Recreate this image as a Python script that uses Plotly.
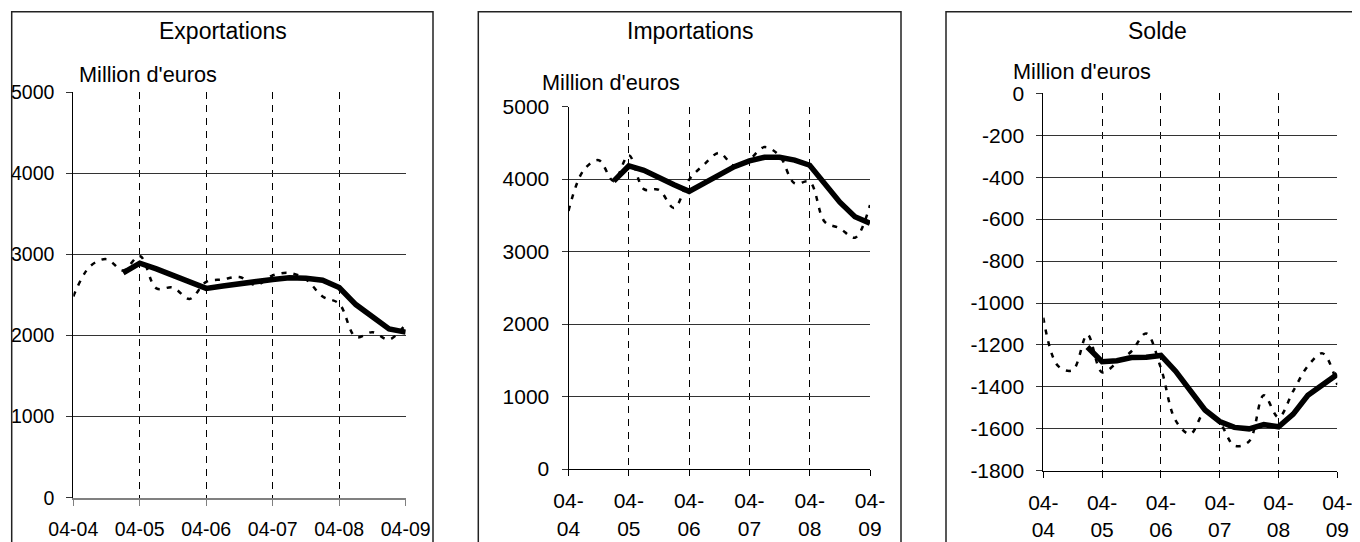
import plotly.graph_objects as go

# page is 1360x542; the html body adds an 8px margin, so the figure is
# placed at (8, 8) and sized to fill the rest of the window
PAGE_OFF = 8
W, H = 1360 - PAGE_OFF, 542 - PAGE_OFF

quarters = list(range(21))
tick_pos = [0, 4, 8, 12, 16, 20]
tick_text_one = ["04-04", "04-05", "04-06", "04-07", "04-08", "04-09"]
tick_text_two = ["04-<br>04", "04-<br>05", "04-<br>06", "04-<br>07", "04-<br>08", "04-<br>09"]

export_raw = [2480, 2850, 2940, 2800, 2980, 2580, 2590, 2450, 2660, 2690, 2720,
              2620, 2740, 2770, 2690, 2480, 2390, 1980, 2040, 1950, 2140]
export_avg = [None, None, None, 2770, 2890, 2820, 2740, 2660, 2580, 2610, 2640,
              2670, 2690, 2710, 2705, 2680, 2590, 2380, 2220, 2080, 2040]

import_raw = [3560, 4120, 4260, 3970, 4330, 3860, 3850, 3600, 3990, 4200, 4360,
              4180, 4270, 4440, 4320, 3940, 3960, 3410, 3320, 3190, 3640]
import_avg = [None, None, None, 3970, 4180, 4120, 4010, 3920, 3830, 3940, 4060,
              4170, 4250, 4300, 4300, 4260, 4190, 3940, 3680, 3480, 3390]

balance_raw = [-1070, -1300, -1320, -1150, -1330, -1285, -1230, -1145, -1310, -1560, -1625,
               -1520, -1570, -1680, -1660, -1440, -1545, -1420, -1300, -1240, -1390]
balance_avg = [None, None, None, -1210, -1280, -1275, -1260, -1258, -1250, -1325, -1415,
               -1510, -1565, -1593, -1600, -1580, -1590, -1530, -1440, -1390, -1340]

y_ticks_trade = [0, 1000, 2000, 3000, 4000, 5000]
y_ticks_balance = [0, -200, -400, -600, -800, -1000, -1200, -1400, -1600, -1800]

titles = ["Exportations", "Importations", "Solde"]
unit_label = "Million d'euros"

FONT = "Liberation Sans, Arial, sans-serif"

def px_x(v):
    return (v - PAGE_OFF) / W

def px_y(v):
    return 1 - (v - PAGE_OFF) / H

# plot areas in page pixels: (left, right, top, bottom)
areas = [(73.3, 405.7, 92.0, 497.7),
         (568.5, 870.0, 106.5, 469.0),
         (1043.3, 1337.3, 93.3, 470.8)]
frames = [(11.7, 433.0), (478.3, 901.0), (946.0, 1359.0)]
title_pos = [(222.7, 31), (690, 31), (1157.3, 31)]
unit_pos = [(76.7, 74.3), (540, 82), (1010.7, 71.5)]

fig = go.Figure()

series = [(export_raw, export_avg), (import_raw, import_avg), (balance_raw, balance_avg)]
for i, (raw, avg) in enumerate(series):
    xa = "x" if i == 0 else f"x{i+1}"
    ya = "y" if i == 0 else f"y{i+1}"
    fig.add_trace(go.Scatter(x=quarters, y=raw, mode="lines", xaxis=xa, yaxis=ya,
                             line=dict(color="black", width=2.5, dash="5px,7px",
                                       shape="spline", smoothing=1.0),
                             showlegend=False, hoverinfo="skip"))
    fig.add_trace(go.Scatter(x=quarters, y=avg, mode="lines", xaxis=xa, yaxis=ya,
                             line=dict(color="black", width=5.5),
                             showlegend=False, hoverinfo="skip"))

layout = dict(template="none", width=W, height=H,
              margin=dict(l=0, r=0, t=0, b=0, pad=0, autoexpand=False),
              paper_bgcolor="white", plot_bgcolor="white",
              font=dict(family=FONT, color="black"), showlegend=False)

yranges = [[0, 5000], [0, 5000], [-1800, 0]]
yticks = [y_ticks_trade, y_ticks_trade, y_ticks_balance]
tick_sizes = [19.5, 21, 21]
xline_colors = ["#808080", "black", "black"]

for i in range(3):
    l, r, t, b = areas[i]
    suffix = "" if i == 0 else str(i + 1)
    layout["xaxis" + suffix] = dict(
        domain=[px_x(l), px_x(r)], range=[0, 20], anchor="y" + suffix,
        tickmode="array", tickvals=tick_pos,
        ticktext=tick_text_one if i == 0 else tick_text_two,
        showgrid=True, gridcolor="black", gridwidth=1, griddash="7px,6px",
        showline=True, linecolor=xline_colors[i], linewidth=2 if i == 0 else 1,
        ticks="outside", ticklen=6, tickcolor=xline_colors[i], tickwidth=1,
        tickfont=dict(size=tick_sizes[i], family=FONT, color="black"),
        ticklabelstandoff=7, zeroline=False, fixedrange=True, automargin=False)
    layout["yaxis" + suffix] = dict(
        domain=[px_y(b), px_y(t)], range=yranges[i], anchor="x" + suffix,
        tickmode="array", tickvals=yticks[i], ticktext=[str(v) for v in yticks[i]],
        showgrid=True, gridcolor="#333333", gridwidth=1,
        showline=True, linecolor="black", linewidth=1,
        ticks="outside", ticklen=6, tickcolor="#333333", tickwidth=1,
        tickfont=dict(size=tick_sizes[i], family=FONT, color="black"),
        ticklabelstandoff=8, zeroline=False, fixedrange=True, automargin=False)

shapes = []
for (x0, x1) in frames:
    shapes.append(dict(type="rect", xref="paper", yref="paper",
                       x0=px_x(x0), x1=px_x(x1), y0=px_y(560), y1=px_y(11.7),
                       line=dict(color="#222222", width=1.5), fillcolor="rgba(0,0,0,0)",
                       layer="below"))
layout["shapes"] = shapes

annotations = []
for i in range(3):
    annotations.append(dict(text=titles[i], xref="paper", yref="paper",
                            x=px_x(title_pos[i][0]), y=px_y(title_pos[i][1]),
                            xanchor="center", yanchor="middle", showarrow=False,
                            font=dict(size=23, family=FONT, color="black")))
    annotations.append(dict(text=unit_label, xref="paper", yref="paper",
                            x=px_x(unit_pos[i][0]), y=px_y(unit_pos[i][1]),
                            xanchor="left", yanchor="middle", showarrow=False,
                            font=dict(size=21.7, family=FONT, color="black")))
layout["annotations"] = annotations

fig.update_layout(**layout)
fig.write_html("out.html")
